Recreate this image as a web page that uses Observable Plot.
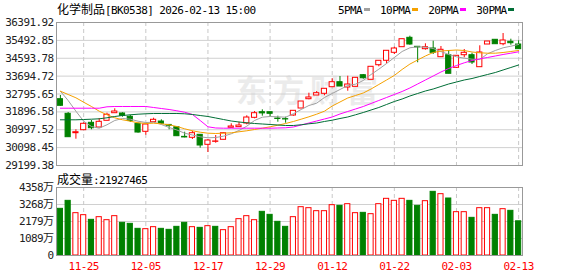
<!DOCTYPE html>
<html><head><meta charset="utf-8">
<script src="https://cdn.jsdelivr.net/npm/d3@7"></script>
<script src="https://cdn.jsdelivr.net/npm/@observablehq/plot@0.6"></script>
<style>
body{margin:0;background:#fff}
#wrap{position:relative;width:578px;height:276px;overflow:hidden;background:#fff}
.mono{font-family:"DejaVu Sans Mono",monospace;font-size:11px;letter-spacing:-0.6px}
.cjk{font-family:"Noto Sans CJK SC",sans-serif;font-size:12px}
#title{position:absolute;left:57px;top:0px;color:#000;white-space:nowrap;line-height:17px}
#legend{position:absolute;left:338px;top:0px;line-height:17px;white-space:nowrap;color:#000}
#legend .it{display:inline-block}
#legend .sw{display:inline-block;width:6px;height:3px;vertical-align:middle;margin:0 10px 0 2px;position:relative;top:-1px}
#vlabel{position:absolute;left:57px;top:170px;line-height:17px;white-space:nowrap;color:#000}
#wm{position:absolute;left:236px;top:73px;font:bold 31px "Noto Sans CJK SC";color:#ebebeb;letter-spacing:6px;line-height:31px;white-space:nowrap}
#price,#vol{position:absolute;left:0}
#price{top:0}
#vol{top:181px}
#vol g[aria-label^="x-axis"] text{fill:#f00}
</style></head>
<body>
<div id="wrap">
  <div id="wm">东方财富</div>
  <div id="price"></div>
  <div id="vol"></div>
  <div id="title"><span class="cjk">化学制品</span><span class="mono">[BK0538] 2026-02-13 15:00</span></div>
  <div id="legend"></div>
  <div id="vlabel"><span class="cjk">成交量</span><span class="mono">:21927465</span></div>
</div>
<script>
// ---- data ----
const dates = ["11-20","11-21","11-24","11-25","11-26","11-27","11-28","12-01","12-02","12-03","12-04","12-05",
"12-08","12-09","12-10","12-11","12-12","12-15","12-16","12-17","12-18","12-19","12-22","12-23","12-24","12-25","12-26",
"12-29","12-30","12-31","01-05","01-06","01-07","01-08","01-09","01-12","01-13","01-14","01-15","01-16",
"01-19","01-20","01-21","01-22","01-23","01-26","01-27","01-28","01-29","01-30","02-02","02-03","02-04","02-05","02-06",
"02-09","02-10","02-11","02-12","02-13"];
const tickDates = ["11-25","12-05","12-17","12-29","01-12","01-22","02-03","02-13"];
const priceTicks = [29199.38,30098.45,30997.52,31896.58,32795.65,33694.72,34593.78,35492.85,36391.92];
const volTicks = [0,1089,2179,3268,4358];

const open = [32534,31800,30824,30975,31347,31110,31448,31830,31815,31649,31297,30894,31377,31412,31240,31126,30640,30592,30743,30240,
30390,30492,31095,31130,31312,31598,31880,31880,31560,31530,31714,32066,32534,32720,32806,33137,33389,33122,33157,33741,
33510,34244,34466,34868,35150,35622,35170,35050,35084,34647,34747,34113,34747,34747,34144,35285,35522,35300,35421,35285];
const high = [32720,31865,30995,31347,31463,31563,31830,32051,31850,31731,31330,31261,31578,31498,31260,31126,30874,30924,30743,30507,
30708,30843,31297,31377,31700,31915,31999,31880,31680,31629,31950,32418,32836,32921,33057,33560,33676,33691,33610,33775,
34164,34466,34969,35150,35552,35703,35185,35320,35451,35185,34984,34717,35033,34848,35220,35436,35522,35838,35552,35471];
const low = [32180,30623,30522,30960,30995,31110,31448,31830,31629,31362,30824,30723,31377,31276,30995,30673,30590,30507,30070,29853,
30320,30492,31095,31130,31246,31548,31680,31629,31377,31327,31680,32066,32504,32720,32705,33137,33172,32936,33157,33540,
33510,34164,34315,34782,35150,35250,34366,35000,34782,34647,33812,34079,34617,34280,34144,35285,35300,35220,35250,35050];
const close = [32202,30623,30874,31297,31075,31397,31750,31915,31699,31448,30858,31261,31498,31297,31200,30673,30610,30824,30205,30457,
30410,30824,31161,31210,31613,31830,31820,31800,31540,31515,31950,32418,32620,32836,33057,33389,33172,33273,33610,33590,
34164,34466,34969,35084,35552,35285,35140,35150,34868,35019,33812,34717,34868,34380,34883,35436,35300,35487,35350,35050];
// volume in 万
const volume = [2991,3503,2713,2585,2286,2457,2264,2521,2094,2029,1709,1688,1816,1709,1645,1837,2094,1816,1773,1880,
1837,1624,1816,2329,2521,2264,2799,2606,2158,1837,2457,3097,3033,2841,2841,3226,3183,3290,2713,2734,
2649,3290,3632,3503,3632,3503,3183,3482,4080,3931,3653,2777,2777,2414,3033,3033,2606,2969,2863,2193];
const ma5 = [32937,32469,31931,31428,31161,31076,31247,31463,31563,31528,31428,31362,31377,31262,31111,30985,30824,30734,30643,30593,
30608,30673,30794,30960,31176,31463,31629,31664,31649,31629,31800,32016,32217,32333,32620,32821,33022,33223,33289,33475,
33777,34043,34330,34632,34933,35120,35170,35150,35084,34933,34783,34667,34596,34546,34531,34818,34984,35120,35200,35286];
const ma10 = [32937,32771,32605,32383,32167,31931,31750,31599,31498,31428,31347,31312,31327,31297,31247,31161,31045,30945,30874,30824,
30809,30824,30844,30895,30945,31010,31076,31146,31226,31312,31413,31528,31649,31780,31931,32192,32393,32595,32720,32846,
33047,33274,33500,33730,34030,34300,34506,34707,34883,34959,34984,35009,34984,34908,34868,34848,34848,34883,34933,34984];
const ma20 = [32081,32081,32081,32081,32081,32081,32152,32167,32167,32167,32167,32167,32117,32066,32016,31951,31880,31765,31463,31146,
31086,31076,31076,31076,31076,31076,31076,31076,31086,31096,31136,31237,31337,31438,31538,31639,31790,31916,32041,32167,
32318,32469,32620,32771,32922,33098,33299,33500,33701,33902,34078,34229,34365,34481,34566,34632,34707,34783,34848,34918];
const ma30 = [31498,31498,31498,31513,31528,31548,31599,31664,31714,31750,31780,31800,31815,31815,31815,31815,31800,31765,31714,31664,
31589,31513,31438,31387,31347,31312,31287,31262,31237,31211,31211,31247,31297,31337,31413,31478,31563,31639,31750,31865,
31991,32117,32268,32419,32544,32695,32821,32947,33047,33173,33299,33399,33500,33575,33676,33777,33877,34003,34129,34254];

const maSeries = ["5PMA","10PMA","20PMA","30PMA"];
const maColors = ["#a0a0a0","#f5a100","#ff00ff","#006e36"];

// ---- build ----
const RED = "#ff0000", GREEN = "#008000";
const rows = dates.map((d, i) => ({
  date: d, open: open[i], high: high[i], low: low[i], close: close[i], vol: volume[i],
  ma5: ma5[i], ma10: ma10[i], ma20: ma20[i], ma30: ma30[i],
  up: close[i] >= open[i],
  vup: i === 0 ? close[i] >= open[i] : close[i] >= close[i - 1]
}));
const maKeys = ["ma5","ma10","ma20","ma30"];

const fontStyle = {background: "transparent", fontFamily: "'DejaVu Sans Mono','Noto Sans CJK SC',monospace",
  fontSize: "11px", letterSpacing: "-0.6px", color: "#222", overflow: "visible"};

const price = Plot.plot({
  width: 578, height: 170,
  marginLeft: 56, marginRight: 56, marginTop: 22, marginBottom: 5,
  style: fontStyle,
  x: {type: "band", domain: dates, padding: 0, axis: null},
  y: {domain: [priceTicks[0], priceTicks[priceTicks.length - 1]], ticks: priceTicks,
      tickFormat: d => d.toFixed(2), tickSize: 0, tickPadding: 3, label: null},
  color: {type: "identity"},
  marks: [
    Plot.ruleY(priceTicks, {stroke: "#d0d0d0"}),
    Plot.ruleX(tickDates, {x: d => d, stroke: "#c8c8c8", strokeDasharray: "4,3"}),
    Plot.ruleX(rows, {x: "date", y1: "low", y2: "high", stroke: d => d.up ? RED : GREEN}),
    Plot.barY(rows, {x: "date", y1: "open", y2: "close", fill: d => d.up ? "#fff" : GREEN,
      stroke: d => d.up ? RED : GREEN, insetLeft: 1.3, insetRight: 1.3}),
    ...maKeys.map((k, j) => Plot.line(rows, {x: "date", y: k, stroke: maColors[j], strokeWidth: 1})),
    Plot.frame({stroke: "#999"})
  ]
});
document.getElementById("price").append(price);

const vol = Plot.plot({
  width: 578, height: 95,
  marginLeft: 56, marginRight: 56, marginTop: 6, marginBottom: 21,
  style: fontStyle,
  x: {type: "band", domain: dates, padding: 0, ticks: tickDates, tickSize: 0, tickPadding: 7, label: null},
  y: {domain: [0, volTicks[volTicks.length - 1]], ticks: volTicks, tickFormat: d => d ? d + "万" : "0",
      tickSize: 0, tickPadding: 3, label: null},
  color: {type: "identity"},
  marks: [
    Plot.ruleY(volTicks, {stroke: "#d0d0d0"}),
    Plot.ruleX(tickDates, {x: d => d, stroke: "#c8c8c8", strokeDasharray: "4,3"}),
    Plot.barY(rows, {x: "date", y: "vol", fill: d => d.vup ? "#fff" : GREEN,
      stroke: d => d.vup ? RED : GREEN, insetLeft: 1.3, insetRight: 1.3}),
    Plot.frame({stroke: "#999"})
  ]
});
document.getElementById("vol").append(vol);

// legend
const lg = document.getElementById("legend");
maSeries.forEach((name, j) => {
  const it = document.createElement("span");
  it.className = "it";
  it.innerHTML = `<span class="mono">${name}</span><span class="sw" style="background:${maColors[j]}"></span>`;
  lg.append(it);
});
</script>
</body></html>
